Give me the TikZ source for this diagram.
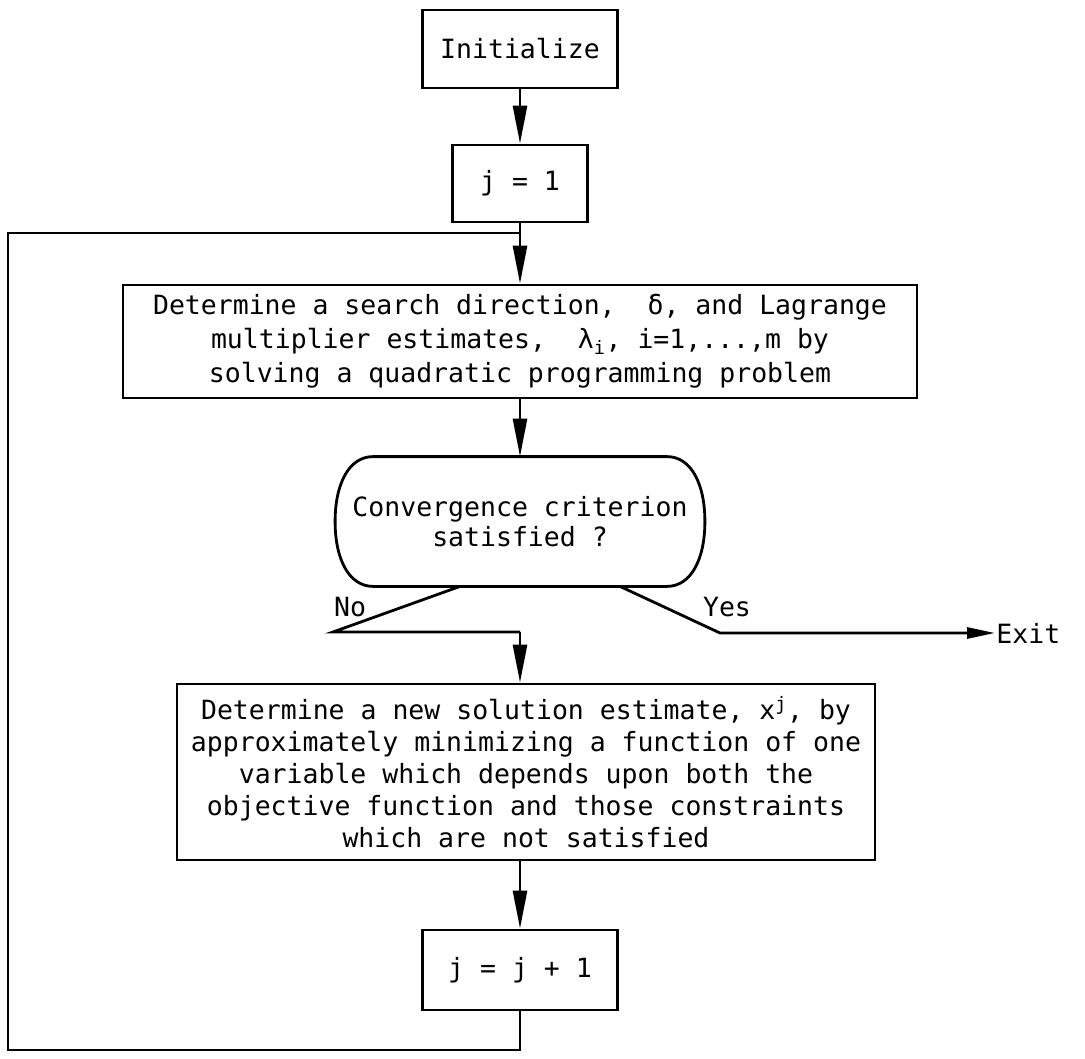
\documentclass[tikz,border=0pt]{standalone}
\usepackage{fontspec}
\newfontfamily\mono{DejaVu Sans Mono}
\usetikzlibrary{arrows.meta,calc}
\begin{document}
\begin{tikzpicture}[x=1pt,y=-1pt,
  line width=2.8pt,
  every node/.style={font=\mono\fontsize{26.5}{32}\selectfont, inner sep=0pt, align=center},
  box/.style={draw, rectangle},
  arr/.style={-{Triangle[length=38pt,width=14pt]}},
  exitarr/.style={-{Triangle[length=28pt,width=11pt]}}]
\fill[white] (0,0) rectangle (1085,1059);
\useasboundingbox (0,0) rectangle (1085,1059);

\node[box, minimum width=195pt, minimum height=78pt] (init) at (520,49) {Initialize};
\node[box, minimum width=135pt, minimum height=77pt] (j1) at (520,183.5) {j = 1};
\node[box, minimum width=794pt, minimum height=113pt, font=\mono\fontsize{26.5}{34}\selectfont] (search) at (520,341.5)
  {Determine a search direction,~~δ, and Lagrange\\
   multiplier estimates,~~λ\textsubscript{i}, i=1,...,m by\\
   solving a quadratic programming problem};
\node[minimum width=367pt, minimum height=127pt, font=\mono\fontsize{26.5}{30}\selectfont] (conv) at (520,521.5)
  {Convergence criterion\\satisfied ?};
\node[box, minimum width=698pt, minimum height=176pt] (newsol) at (526,772)
  {Determine a new solution estimate, x\textsuperscript{j}, by\\
   approximately minimizing a function of one\\
   variable which depends upon both the\\
   objective function and those constraints\\
   which are not satisfied};
\node[box, minimum width=195pt, minimum height=80pt] (jp1) at (520,970) {j = j + 1};
\node[anchor=west] (exit) at (995,633) {Exit};
\node (nolab) at (350,607) {No};
\node (yeslab) at (727,607) {Yes};

% terminal outline
\draw ([xshift=38pt]conv.north west) -- ([xshift=-38pt]conv.north east)
  .. controls +(24,0) and +(0,-38) .. (conv.east)
  .. controls +(0,38) and +(24,0) .. ([xshift=-38pt]conv.south east)
  -- ([xshift=38pt]conv.south west)
  .. controls +(-24,0) and +(0,38) .. (conv.west)
  .. controls +(0,-38) and +(-24,0) .. cycle;

\coordinate (join) at (520,233);
\coordinate (tl) at (8,233);
\coordinate (bl) at (8,1050);
\coordinate (nostart) at ($(conv.south)+(-60,0)$);
\coordinate (nocorner) at (333,632);
\coordinate (nojoin) at (520,632);
\coordinate (yesstart) at ($(conv.south)+(100,0)$);
\coordinate (yescorner) at (720,633);

\draw[arr] (init) -- (j1);
\draw (j1.south) -- (join);
\draw[arr] (join) -- (search.north);
\draw[arr] (search.south) -- (conv.north);
\draw (nostart) -- (nocorner) -- (nojoin);
\draw[arr] (nojoin) -- (nojoin |- newsol.north);
\draw[exitarr] (yesstart) -- (yescorner) -- (exit.west);
\draw[arr] (jp1.north |- newsol.south) -- (jp1.north);
\draw (jp1.south) -- (jp1.south |- bl) -- (bl) -- (tl) -- (join);
\end{tikzpicture}
\end{document}
